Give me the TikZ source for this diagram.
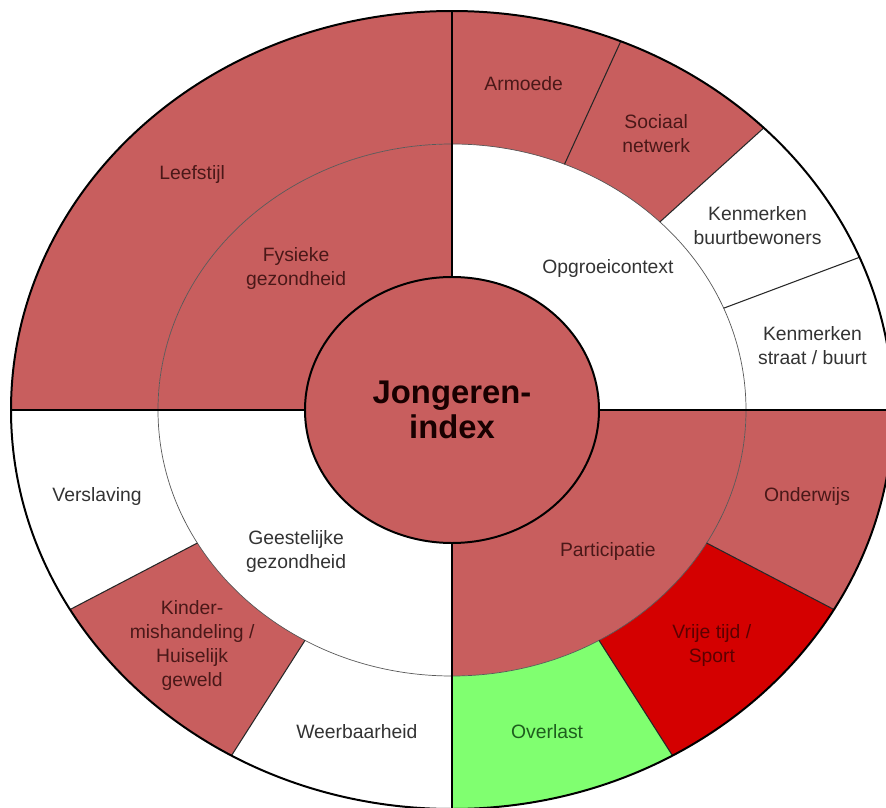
\documentclass[tikz,border=0pt]{standalone}
\usepackage{fontspec}
\setmainfont{Liberation Sans}
\usepackage{tikz}

\definecolor{ringred}{HTML}{C85E5E}
\definecolor{brightred}{HTML}{D40000}
\definecolor{lightgreen}{HTML}{80FF70}
\definecolor{txtred}{HTML}{4A1818}
\definecolor{txtgray}{HTML}{333333}
\definecolor{txtgreen}{HTML}{1E5E1E}
\definecolor{txtdark}{HTML}{5C0000}

\tikzset{
	thickline/.style={draw=black, line width=1.7pt},
	segline/.style={draw=black!85, line width=0.9pt},
	ringline/.style={draw=black!65, line width=0.6pt},
	lbl/.style={align=center, inner sep=0pt, font=\fontsize{16.5}{20.5}\selectfont},
}

\begin{document}
\begin{tikzpicture}[x=39.9mm,y=39.9mm]
	\useasboundingbox (-135.6mm,-119.1mm) rectangle (130.2mm,123mm);
	\clip (-135.6mm,-119.1mm) rectangle (130.2mm,123mm);
	\begin{scope}[xscale=1.10526]
		\foreach \a/\c in {0/white,90/ringred,180/white,270/ringred}
			\fill [\c] (0,0) -- (\a:2) arc [start angle=\a, end angle=\a+90, radius=2] -- cycle;
		\foreach \a/\b/\c in {90/180/ringred, 67.5/90/ringred, 45/67.5/ringred, 22.5/45/white, 0/22.5/white,
			180/210/white, 210/240/ringred, 240/270/white, 270/300/lightgreen, 300/330/brightred, 330/360/ringred}
			\fill [\c] (\a:2) -- (\a:3) arc [start angle=\a, end angle=\b, radius=3] -- (\b:2) arc [start angle=\b, end angle=\a, radius=2] -- cycle;
		\draw [ringline] (0,0) circle (2);
		\foreach \a in {22.5,45,67.5,210,240,300,330}
			\draw [segline] (\a:2) -- (\a:3);
		\foreach \a in {0,90,180,270}
			\draw [thickline] (\a:1) -- (\a:3);
		\draw [thickline] (0,0) circle (3);
		\filldraw [fill=ringred, thickline] (0,0) circle (1);

		\node [align=center, inner sep=0pt, text=black!90!red, font=\bfseries\fontsize{28}{30}\selectfont] (index) at (0,0) {Jongeren-\\index};

		\node [lbl, text=txtred] (fysiek) at (135:1.5) {Fysieke\\gezondheid};
		\node [lbl, text=txtgray] (opgroei) at (45:1.5) {Opgroeicontext};
		\node [lbl, text=txtgray] (geestelijk) at (225:1.5) {Geestelijke\\gezondheid};
		\node [lbl, text=txtred] (participatie) at (315:1.5) {Participatie};

		\node [lbl, text=txtred] (leefstijl) at (135:2.5) {Leefstijl};
		\node [lbl, text=txtred] (armoede) at (78.75:2.5) {Armoede};
		\node [lbl, text=txtred] (sociaal) at (56.25:2.5) {Sociaal\\netwerk};
		\node [lbl, text=txtgray] (bewoners) at (33.75:2.5) {Kenmerken\\buurtbewoners};
		\node [lbl, text=txtgray] (straat) at (11.25:2.5) {Kenmerken\\straat / buurt};
		\node [lbl, text=txtgray] (verslaving) at (195:2.5) {Verslaving};
		\node [lbl, text=txtred] (kinder) at (225:2.5) {Kinder-\\mishandeling /\\Huiselijk\\geweld};
		\node [lbl, text=txtgray] (weerbaar) at (255:2.5) {Weerbaarheid};
		\node [lbl, text=txtgreen] (overlast) at (285:2.5) {Overlast};
		\node [lbl, text=txtdark] (vrijetijd) at (315:2.5) {Vrije tijd /\\Sport};
		\node [lbl, text=txtred] (onderwijs) at (345:2.5) {Onderwijs};
	\end{scope}
\end{tikzpicture}
\end{document}
